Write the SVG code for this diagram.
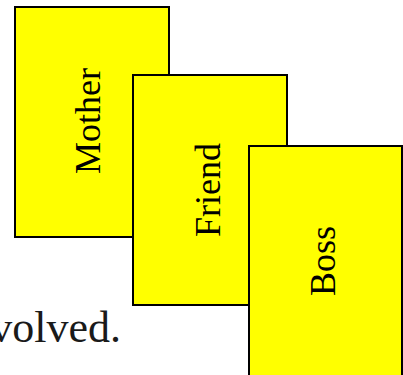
<svg xmlns="http://www.w3.org/2000/svg" width="403" height="375" viewBox="0 0 403 375">
<style>
.card{fill:#ffff00;stroke:#000;stroke-width:2}
.lbl{font-family:"Liberation Serif","Times New Roman",serif;font-size:36px;fill:#000;text-anchor:middle}
.body{font-family:"Liberation Serif","Times New Roman",serif;font-size:44px;fill:#1a1a1a;text-anchor:end}
</style>
<rect width="403" height="375" fill="#fff"/>
<text class="body" x="121" y="342">volved.</text>
<g id="mother">
<rect class="card" x="15" y="7" width="154" height="230"/>
<text class="lbl" transform="translate(100,121) rotate(-90)">Mother</text>
</g>
<g id="friend">
<rect class="card" x="133" y="75" width="154" height="230"/>
<text class="lbl" transform="translate(220,190) rotate(-90)">Friend</text>
</g>
<g id="boss">
<rect class="card" x="249" y="146" width="153" height="231"/>
<text class="lbl" transform="translate(335,261) rotate(-90)">Boss</text>
</g>
<g id="connectors"/>
</svg>
